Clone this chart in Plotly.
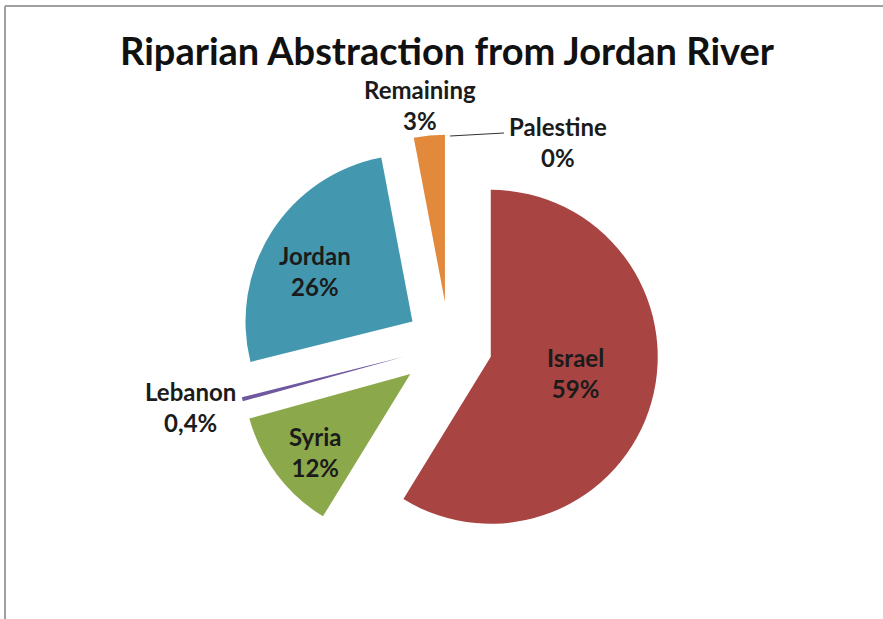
import plotly.graph_objects as go

# Share of riparian abstraction from the Jordan River (percent)
countries = ["Israel", "Syria", "Lebanon", "Jordan", "Remaining", "Palestine"]
shares = [59, 12, 0.4, 26, 3, 0]
colors = ["#A84442", "#8BA84B", "#70589F", "#4398B0", "#E2893C", "#7F7F7F"]
explode = [0.26, 0.29, 0.28, 0.26, 0.26, 0.26]

# label centres in pixels (x, y from top) for the 883x619 canvas
label_px = [(575, 373), (315, 452), (190, 407), (315, 271), (420, 105), (558, 142)]

W, H = 883, 619


def pct_text(v):
    return f"{v:g}".replace(".", ",") + "%"


fig = go.Figure()
fig.add_trace(go.Pie(
    labels=countries,
    values=shares,
    sort=False,
    direction="clockwise",
    rotation=0,
    pull=explode,
    marker=dict(colors=colors, line=dict(width=0)),
    textinfo="none",
    hoverinfo="label+percent",
    showlegend=False,
    domain=dict(x=[0.2646, 0.7524], y=[0.0947, 0.7906]),
))

label_font = dict(family="Lato, Noto Sans, sans-serif", size=24, color="#1b1b1b", weight="bold")
for name, v, (px, py) in zip(countries, shares, label_px):
    fig.add_annotation(
        x=px / W, y=1 - py / H, xref="paper", yref="paper",
        text=f"{name}<br>{pct_text(v)}", showarrow=False,
        xanchor="center", yanchor="middle", font=label_font, align="center",
    )

shapes = [
    # leader line to the Palestine label
    dict(type="line", xref="paper", yref="paper",
         x0=450 / W, y0=1 - 136 / H, x1=504 / W, y1=1 - 133 / H,
         line=dict(color="#333333", width=1)),
    # chart frame (top and left edges)
    dict(type="line", xref="paper", yref="paper",
         x0=5 / W, y0=1 - 6 / H, x1=1, y1=1 - 6 / H,
         line=dict(color="#a0a0a0", width=2)),
    dict(type="line", xref="paper", yref="paper",
         x0=5 / W, y0=1 - 6 / H, x1=5 / W, y1=0,
         line=dict(color="#a0a0a0", width=2)),
]

fig.update_layout(
    width=W, height=H,
    margin=dict(l=0, r=0, t=0, b=0),
    paper_bgcolor="white", plot_bgcolor="white",
    title=dict(text="Riparian Abstraction from Jordan River",
               x=447 / W, xanchor="center", y=1 - 52 / H, yanchor="middle",
               font=dict(family="Lato, Noto Sans, sans-serif", size=38,
                         color="#111111", weight="bold")),
    shapes=shapes,
)

fig.write_html("out.html")
